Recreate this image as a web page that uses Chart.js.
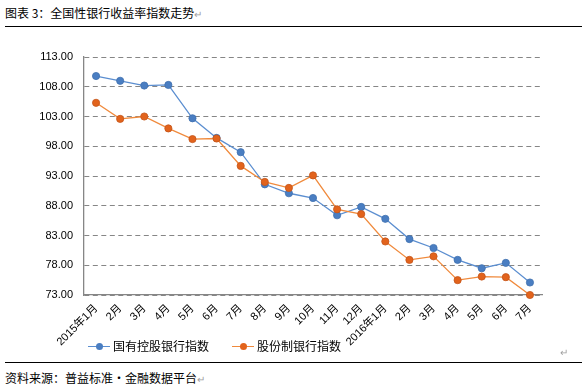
<!DOCTYPE html>
<html>
<head>
<meta charset="utf-8">
<script src="https://cdn.jsdelivr.net/npm/chart.js@4.4.1/dist/chart.umd.min.js"></script>
<style>
  body { margin: 0; background: #fff; width: 586px; height: 390px; position: relative; overflow: hidden;
         font-family: "Noto Sans CJK SC", "Liberation Sans", sans-serif; color: #000; }
  .title { position: absolute; left: 5px; top: 5px; font-size: 12px; line-height: 16px; }
  .rule { position: absolute; left: 5px; width: 577px; height: 0; border-top: 1.5px solid #000; }
  .mark { color: #a0a0a0; font-size: 10px; }
  #wrap { position: absolute; left: 0; top: 30px; width: 586px; height: 330px; }
  .legend { position: absolute; top: 338px; font-size: 12px; line-height: 16px; display: flex; align-items: center; }
  .swatch { position: relative; width: 22px; height: 16px; margin-right: 3px; }
  .swatch .ln { position: absolute; left: 0; right: 0; top: 7.5px; height: 1.3px; }
  .swatch .dot { position: absolute; left: 7.5px; top: 4.5px; width: 7px; height: 7px; border-radius: 50%; }
  .footer { position: absolute; left: 5px; top: 370px; font-size: 12px; line-height: 16px; }
</style>
</head>
<body>
<div class="title">图表 3：全国性银行收益率指数走势<span class="mark">↵</span></div>
<div class="rule" style="top:26px"></div>
<div id="wrap"><canvas id="chart"></canvas></div>
<div class="legend" style="left:88px">
  <div class="swatch"><div class="ln" style="background:#5B8ED0"></div><div class="dot" style="background:#4A7EC2"></div></div>国有控股银行指数
</div>
<div class="legend" style="left:232px">
  <div class="swatch"><div class="ln" style="background:#F08A3C"></div><div class="dot" style="background:#E2631C"></div></div>股份制银行指数
</div>
<div class="mark" style="position:absolute;left:560px;top:344px">↵</div>
<div class="rule" style="top:362px"></div>
<div class="footer">资料来源：普益标准·金融数据平台<span class="mark">↵</span></div>

<script>
// months, 2015-01 .. 2016-07
const months = ['2015年1月', '2月', '3月', '4月', '5月', '6月', '7月', '8月', '9月', '10月', '11月', '12月',
                '2016年1月', '2月', '3月', '4月', '5月', '6月', '7月'];

// index values
const stateOwned = [109.8, 109.0, 108.2, 108.3, 102.7, 99.4, 97.0, 91.6, 90.1, 89.3, 86.4, 87.8,
                    85.8, 82.4, 80.9, 78.9, 77.5, 78.4, 75.1];
const jointStock = [105.3, 102.6, 103.0, 101.0, 99.2, 99.3, 94.7, 92.0, 91.0, 93.1, 87.4, 86.6,
                    82.0, 78.9, 79.5, 75.5, 76.1, 76.0, 73.0];

const yTicks = { min: 73, max: 113, step: 5 };

const BLUE_LINE = '#5B8ED0';
const BLUE_DOT = '#4A7EC2';
const ORANGE_LINE = '#F08A3C';
const ORANGE_DOT = '#E2631C';
const GRID = '#868686';

const tickFont = { family: '"Liberation Sans", "Noto Sans CJK SC", sans-serif', size: 11 };

new Chart(document.getElementById('chart'), {
    type: 'line',
    data: {
        labels: months,
        datasets: [
            {
                label: '国有控股银行指数',
                data: stateOwned,
                borderColor: BLUE_LINE,
                borderWidth: 1.3,
                pointBackgroundColor: BLUE_DOT,
                pointBorderColor: '#3F70AE',
                pointBorderWidth: 0.8,
                pointRadius: 3.6,
                tension: 0,
                clip: false,
                order: 2
            },
            {
                label: '股份制银行指数',
                data: jointStock,
                borderColor: ORANGE_LINE,
                borderWidth: 1.3,
                pointBackgroundColor: ORANGE_DOT,
                pointBorderColor: '#C4561A',
                pointBorderWidth: 0.8,
                pointRadius: 3.6,
                tension: 0,
                clip: false,
                order: 1
            }
        ]
    },
    options: {
        responsive: true,
        maintainAspectRatio: false,
        animation: false,
        layout: { padding: { top: 27, right: 44, left: 0, bottom: 0 } },
        plugins: {
            legend: { display: false },
            tooltip: { enabled: false }
        },
        scales: {
            x: {
                offset: true,
                grid: { color: 'transparent', drawTicks: false },
                border: { display: true, color: GRID, width: 1.3 },
                ticks: {
                    color: '#000',
                    font: tickFont,
                    minRotation: 45,
                    maxRotation: 45,
                    autoSkip: false,
                    padding: 7
                },
                afterFit: (scale) => { scale.height = 65; }
            },
            y: {
                min: yTicks.min,
                max: yTicks.max,
                grid: { color: GRID, lineWidth: 1, drawTicks: false },
                border: { display: true, color: GRID, width: 1.3, dash: [5, 3.5] },
                ticks: {
                    stepSize: yTicks.step,
                    color: '#000',
                    font: tickFont,
                    padding: 11,
                    callback: (v) => v.toFixed(2)
                },
                afterFit: (scale) => { scale.width = 84; }
            }
        }
    }
});
</script>
</body>
</html>
